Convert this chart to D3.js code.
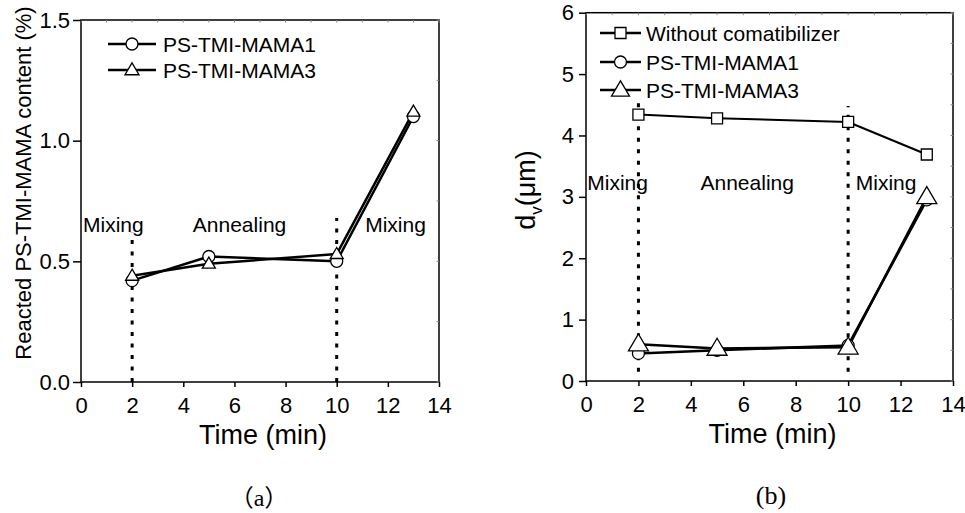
<!DOCTYPE html>
<html>
<head>
<meta charset="utf-8">
<script src="https://cdn.jsdelivr.net/npm/d3@7"></script>
<style>
  body { margin: 0; background: #fff; }
  svg { display: block; }
</style>
</head>
<body>
<script>
const W = 965, H = 513;
const sans = "'Liberation Sans', Arial, sans-serif";
const serif = "'Liberation Serif', 'Times New Roman', serif";
const cjk = "'Noto Sans CJK SC', sans-serif";

// ---- data ----
const time = [2, 5, 10, 13];
// (a) reacted PS-TMI-MAMA content (%)
const reactedMama1 = [0.42, 0.52, 0.50, 1.10];
const reactedMama3 = [0.44, 0.49, 0.53, 1.12];
// (b) d_v (um)
const dvWithout = [4.34, 4.28, 4.22, 3.69];
const dvMama1 = [0.45, 0.50, 0.58, 2.95];
const dvMama3 = [0.60, 0.53, 0.55, 3.00];

const xTicks = [0, 2, 4, 6, 8, 10, 12, 14];
const yTicksA = [0, 0.5, 1.0, 1.5];
const yTicksB = [0, 1, 2, 3, 4, 5, 6];
const phases = ["Mixing", "Annealing", "Mixing"];
const phaseBounds = [2, 10];

const svg = d3.select("body").append("svg")
    .attr("width", W)
    .attr("height", H);

function markerPath(type, size) {
  if (type === "square") {
    const s = size / 2;
    return `M${-s},${-s}H${s}V${s}H${-s}Z`;
  }
  // triangle, width = size
  const h = size * 0.85;
  return `M0,${-h * 0.6}L${size / 2},${h * 0.4}L${-size / 2},${h * 0.4}Z`;
}

function drawMarker(g, type, size, cx, cy) {
  if (type === "circle") {
    g.append("circle")
        .attr("cx", cx).attr("cy", cy).attr("r", size / 2)
        .attr("fill", "#fff").attr("stroke", "#000").attr("stroke-width", 1.3);
  } else {
    g.append("path")
        .attr("d", markerPath(type, size))
        .attr("transform", `translate(${cx},${cy})`)
        .attr("fill", "#fff").attr("stroke", "#000").attr("stroke-width", 1.3);
  }
}

function panel(cfg) {
  const x = d3.scaleLinear().domain([0, 14]).range(cfg.xr);
  const y = d3.scaleLinear().domain(cfg.yDomain).range(cfg.yr);
  const g = svg.append("g");

  // frame
  g.append("rect")
      .attr("x", cfg.xr[0]).attr("y", cfg.yr[1])
      .attr("width", cfg.xr[1] - cfg.xr[0])
      .attr("height", cfg.yr[0] - cfg.yr[1])
      .attr("fill", "none").attr("stroke", "#000").attr("stroke-width", 1.5);

  // faint inner ticks on top and right edges
  const minorX = d3.range(0, 14.01, 1);
  g.append("g").selectAll("line").data(minorX).join("line")
      .attr("x1", d => x(d)).attr("x2", d => x(d))
      .attr("y1", cfg.yr[1]).attr("y2", cfg.yr[1] + 2.5)
      .attr("stroke", "#888").attr("stroke-width", 1);
  const minorY = d3.range(cfg.yDomain[0], cfg.yDomain[1] + 1e-6, cfg.yMinor);
  g.append("g").selectAll("line").data(minorY).join("line")
      .attr("x1", cfg.xr[1]).attr("x2", cfg.xr[1] - 2.5)
      .attr("y1", d => y(d)).attr("y2", d => y(d))
      .attr("stroke", "#888").attr("stroke-width", 1);

  // bottom axis
  const gx = g.append("g").attr("transform", `translate(0,${cfg.yr[0]})`);
  gx.call(d3.axisBottom(x).tickValues(minorX).tickSize(3).tickFormat(""));
  gx.call(d3.axisBottom(x).tickValues(xTicks).tickSize(5).tickPadding(10).tickFormat(d3.format("d")));
  gx.select(".domain").remove();
  gx.selectAll("line").attr("stroke", "#000").attr("stroke-width", 1.5);
  gx.selectAll("text").attr("font-family", sans).attr("font-size", 22).attr("fill", "#000");

  // left axis
  const gy = g.append("g").attr("transform", `translate(${cfg.xr[0]},0)`);
  gy.call(d3.axisLeft(y).tickValues(minorY).tickSize(4).tickFormat(""));
  gy.call(d3.axisLeft(y).tickValues(cfg.yTicks).tickSize(cfg.yTick).tickPadding(cfg.yPad).tickFormat(cfg.yFormat));
  gy.select(".domain").remove();
  gy.selectAll("line").attr("stroke", "#000").attr("stroke-width", 1.5);
  gy.selectAll("text").attr("font-family", sans).attr("font-size", 22).attr("fill", "#000");

  // phase boundaries
  g.append("g").selectAll("line").data(phaseBounds).join("line")
      .attr("x1", d => x(d)).attr("x2", d => x(d))
      .attr("y1", y(cfg.dotFrom))
      .attr("y2", (d, i) => y(cfg.dotTo[i]))
      .attr("stroke", "#000").attr("stroke-width", 3)
      .attr("stroke-dasharray", "4,7.5");

  // phase labels
  g.append("g").selectAll("text").data(phases).join("text")
      .attr("x", (d, i) => x(cfg.phaseX[i]))
      .attr("y", y(cfg.phaseY))
      .attr("text-anchor", (d, i) => i === 0 ? "start" : "middle")
      .attr("font-family", sans).attr("font-size", 21)
      .text(d => d);

  // series
  const line = d3.line().x((d, i) => x(time[i])).y(d => y(d));
  cfg.series.forEach(s => {
    g.append("path")
        .attr("d", line(s.values))
        .attr("fill", "none").attr("stroke", "#000")
        .attr("stroke-width", s.lw).attr("stroke-linejoin", "round");
  });
  cfg.series.forEach(s => {
    s.values.forEach((v, i) => drawMarker(g, s.marker, s.size, x(time[i]), y(v)));
  });

  // legend
  cfg.series.forEach((s, i) => {
    const ly = cfg.legend.y[i];
    g.append("line")
        .attr("x1", cfg.legend.x0).attr("x2", cfg.legend.x1)
        .attr("y1", ly).attr("y2", ly)
        .attr("stroke", "#000").attr("stroke-width", 2.5);
    drawMarker(g, s.marker, s.legendSize, (cfg.legend.x0 + cfg.legend.x1) / 2, ly);
    g.append("text")
        .attr("x", cfg.legend.tx).attr("y", ly + 7.5)
        .attr("font-family", sans).attr("font-size", 21)
        .text(s.name);
  });

  // x title
  g.append("text")
      .attr("x", (cfg.xr[0] + cfg.xr[1]) / 2 + 3)
      .attr("y", cfg.yr[0] + 62)
      .attr("text-anchor", "middle")
      .attr("font-family", sans).attr("font-size", 27)
      .text("Time (min)");

  return {x, y, g};
}

// (a)
const pa = panel({
  xr: [81, 439], yr: [382, 20],
  yDomain: [0, 1.5], yTicks: yTicksA, yMinor: 0.25, yTick: 8, yPad: 3,
  yFormat: d3.format(".1f"),
  dotFrom: 0, dotTo: [0.62, 0.68],
  phaseX: [0.08, 6.2, 12.3], phaseY: 0.62,
  series: [
    {name: "PS-TMI-MAMA1", values: reactedMama1, marker: "circle", size: 12, legendSize: 12, lw: 2.5},
    {name: "PS-TMI-MAMA3", values: reactedMama3, marker: "triangle", size: 13, legendSize: 14, lw: 2.5}
  ],
  legend: {x0: 108, x1: 156, tx: 163, y: [44, 70]}
});
pa.g.append("text")
    .attr("transform", "translate(31,183) rotate(-90)")
    .attr("text-anchor", "middle")
    .attr("font-family", sans).attr("font-size", 22)
    .text("Reacted PS-TMI-MAMA content (%)");

// (b)
const pb = panel({
  xr: [586, 953], yr: [381, 12.7],
  yDomain: [0, 6], yTicks: yTicksB, yMinor: 0.5, yTick: 7, yPad: 5,
  yFormat: d3.format("d"),
  dotFrom: 0.15, dotTo: [4.53, 4.48],
  phaseX: [0.05, 6.15, 11.45], phaseY: 3.11,
  series: [
    {name: "Without comatibilizer", values: dvWithout, marker: "square", size: 11, legendSize: 11, lw: 2},
    {name: "PS-TMI-MAMA1", values: dvMama1, marker: "circle", size: 12, legendSize: 12, lw: 2.5},
    {name: "PS-TMI-MAMA3", values: dvMama3, marker: "triangle", size: 20, legendSize: 18, lw: 2.5}
  ],
  legend: {x0: 600, x1: 641, tx: 646, y: [33, 62, 90]}
});
const dv = pb.g.append("text")
    .attr("transform", "translate(535,190) rotate(-90)")
    .attr("text-anchor", "middle")
    .attr("font-family", sans).attr("font-size", 27);
dv.append("tspan").text("d");
dv.append("tspan").attr("font-size", 17).attr("dy", 7).text("v");
dv.append("tspan").attr("dy", -7).text("(\u03bcm)");

// captions
const capA = svg.append("text")
    .attr("x", 259).attr("y", 506)
    .attr("text-anchor", "middle")
    .attr("font-size", 24);
capA.append("tspan").attr("font-family", cjk).text("\uff08");
capA.append("tspan").attr("font-family", serif).text("a");
capA.append("tspan").attr("font-family", cjk).text("\uff09");
svg.append("text")
    .attr("x", 771).attr("y", 504)
    .attr("text-anchor", "middle")
    .attr("font-family", serif).attr("font-size", 26)
    .text("(b)");
</script>
</body>
</html>
